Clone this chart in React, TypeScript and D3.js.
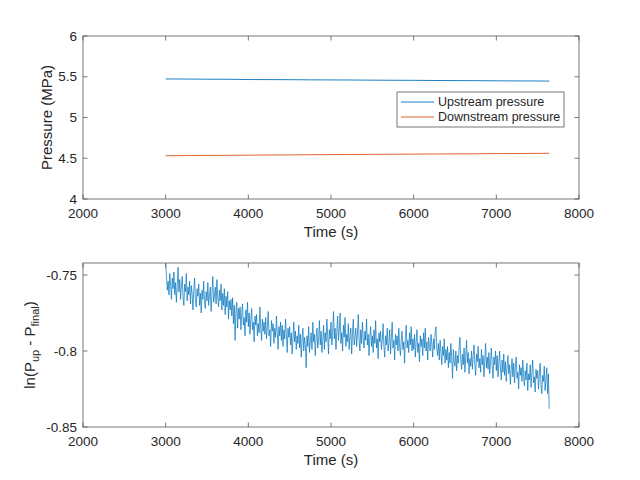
import { useEffect, useRef } from 'react'
import * as d3 from 'd3'

// top panel: pressure readings (MPa) every 250 s
const topTimes = [
  3000, 3250, 3500, 3750, 4000, 4250, 4500, 4750, 5000, 5250, 5500, 5750, 6000, 6250, 6500, 6750, 7000,
  7250, 7500, 7640,
]
const upstream = [
  5.473, 5.472, 5.47, 5.469, 5.466, 5.465, 5.464, 5.462, 5.461, 5.46, 5.458, 5.457, 5.456, 5.454, 5.453,
  5.452, 5.45, 5.449, 5.448, 5.447,
]
const downstream = [
  4.531, 4.533, 4.535, 4.536, 4.538, 4.54, 4.541, 4.543, 4.545, 4.546, 4.548, 4.549, 4.551, 4.552, 4.554,
  4.555, 4.557, 4.558, 4.56, 4.561,
]

// bottom panel: ln(P_up - P_final), sampled every 10 s from 3000 s (one row = 100 s)
const lnStart = 3000
const lnStep = 10
const lnValues = [
  -0.742, -0.751, -0.76, -0.754, -0.763, -0.749, -0.757, -0.766, -0.752, -0.759,
  -0.748, -0.763, -0.755, -0.768, -0.757, -0.745, -0.761, -0.753, -0.766, -0.758,
  -0.751, -0.764, -0.77, -0.756, -0.761, -0.749, -0.767, -0.758, -0.763, -0.754,
  -0.769, -0.757, -0.762, -0.773, -0.76, -0.752, -0.766, -0.771, -0.759, -0.764,
  -0.756, -0.77, -0.762, -0.775, -0.76, -0.766, -0.754, -0.768, -0.772, -0.761,
  -0.767, -0.755, -0.77, -0.763, -0.758, -0.774, -0.762, -0.751, -0.768, -0.764,
  -0.758, -0.769, -0.753, -0.765, -0.771, -0.76, -0.767, -0.756, -0.773, -0.762,
  -0.77, -0.759, -0.776, -0.764, -0.771, -0.761, -0.779, -0.767, -0.773, -0.766,
  -0.777, -0.765, -0.782, -0.77, -0.793, -0.774, -0.768, -0.785, -0.772, -0.779,
  -0.771, -0.786, -0.775, -0.769, -0.783, -0.778, -0.79, -0.773, -0.781, -0.768,
  -0.784, -0.775, -0.789, -0.779, -0.772, -0.786, -0.781, -0.794, -0.777, -0.783,
  -0.776, -0.79, -0.782, -0.788, -0.771, -0.785, -0.793, -0.779, -0.787, -0.781,
  -0.789, -0.778, -0.792, -0.784, -0.774, -0.79, -0.786, -0.797, -0.78, -0.787,
  -0.782, -0.795, -0.785, -0.791, -0.777, -0.788, -0.799, -0.784, -0.79, -0.781,
  -0.793, -0.783, -0.797, -0.786, -0.792, -0.779, -0.789, -0.801, -0.785, -0.791,
  -0.784, -0.796, -0.788, -0.802, -0.791, -0.781, -0.794, -0.787, -0.799, -0.79,
  -0.795, -0.783, -0.798, -0.789, -0.804, -0.792, -0.785, -0.8, -0.791, -0.796,
  -0.811, -0.79, -0.797, -0.784, -0.801, -0.793, -0.788, -0.799, -0.781, -0.794,
  -0.789, -0.803, -0.791, -0.785, -0.798, -0.792, -0.78, -0.796, -0.787, -0.801,
  -0.793, -0.783, -0.799, -0.788, -0.794, -0.779, -0.79, -0.802, -0.786, -0.792,
  -0.781, -0.796, -0.789, -0.774, -0.792, -0.785, -0.799, -0.787, -0.777, -0.793,
  -0.786, -0.775, -0.795, -0.788, -0.8, -0.783, -0.791, -0.778, -0.797, -0.789,
  -0.794, -0.782, -0.799, -0.79, -0.785, -0.802, -0.788, -0.779, -0.796, -0.791,
  -0.785, -0.797, -0.789, -0.776, -0.793, -0.8, -0.786, -0.795, -0.781, -0.792,
  -0.798, -0.787, -0.793, -0.779, -0.796, -0.789, -0.803, -0.791, -0.784, -0.797,
  -0.79, -0.801, -0.786, -0.795, -0.78, -0.798, -0.792, -0.805, -0.788, -0.794,
  -0.787, -0.799, -0.793, -0.782, -0.797, -0.804, -0.79, -0.796, -0.785, -0.8,
  -0.795, -0.786, -0.802, -0.791, -0.781, -0.798, -0.793, -0.806, -0.789, -0.796,
  -0.79, -0.8, -0.785, -0.797, -0.803, -0.792, -0.787, -0.799, -0.794, -0.808,
  -0.791, -0.783, -0.798, -0.793, -0.801, -0.788, -0.796, -0.784, -0.8, -0.792,
  -0.799, -0.789, -0.804, -0.794, -0.786, -0.801, -0.795, -0.807, -0.79, -0.797,
  -0.792, -0.803, -0.788, -0.798, -0.785, -0.8, -0.794, -0.806, -0.791, -0.797,
  -0.8, -0.789, -0.796, -0.804, -0.792, -0.799, -0.787, -0.784, -0.798, -0.803,
  -0.795, -0.806, -0.793, -0.801, -0.809, -0.797, -0.803, -0.792, -0.808, -0.799,
  -0.806, -0.797, -0.811, -0.801, -0.808, -0.795, -0.804, -0.818, -0.799, -0.807,
  -0.81, -0.8, -0.813, -0.803, -0.808, -0.797, -0.791, -0.806, -0.812, -0.802,
  -0.809, -0.798, -0.814, -0.804, -0.793, -0.808, -0.801, -0.815, -0.805, -0.81,
  -0.8, -0.812, -0.803, -0.796, -0.809, -0.816, -0.802, -0.807, -0.797, -0.811,
  -0.805, -0.814, -0.799, -0.809, -0.803, -0.817, -0.806, -0.795, -0.811, -0.804,
  -0.812, -0.801, -0.815, -0.807, -0.798, -0.81, -0.818, -0.804, -0.809, -0.8,
  -0.813, -0.803, -0.817, -0.808, -0.8, -0.812, -0.819, -0.806, -0.814, -0.802,
  -0.816, -0.807, -0.82, -0.81, -0.803, -0.815, -0.809, -0.822, -0.812, -0.805,
  -0.817, -0.808, -0.821, -0.811, -0.804, -0.818, -0.814, -0.825, -0.809, -0.816,
  -0.811, -0.82, -0.806, -0.817, -0.823, -0.813, -0.819, -0.808, -0.826, -0.815,
  -0.819, -0.809, -0.824, -0.814, -0.806, -0.821, -0.817, -0.827, -0.812, -0.818,
  -0.813, -0.825, -0.815, -0.808, -0.822, -0.828, -0.816, -0.82, -0.81, -0.826,
  -0.819, -0.811, -0.828, -0.815, -0.838,
]

const xTicks = [2000, 3000, 4000, 5000, 6000, 7000, 8000]
const topYTicks = [4, 4.5, 5, 5.5, 6]
const bottomYTicks = [-0.85, -0.8, -0.75]
const seriesNames = ['Upstream pressure', 'Downstream pressure']
const seriesColors = ['#0072BD', '#D95319']

const FONT = '"Liberation Sans", Arial, Helvetica, sans-serif'
const AXIS = '#262626'
const BOX = '#555555'
const TICK = 4.5

type G = d3.Selection<SVGGElement, unknown, null, undefined>

function drawFrame(
  g: G,
  x: d3.ScaleLinear<number, number>,
  y: d3.ScaleLinear<number, number>,
  yTicks: number[],
) {
  const [x0, x1] = x.range()
  const [y0, y1] = y.range() // y0 bottom, y1 top

  g.append('rect')
    .attr('x', x0)
    .attr('y', y1)
    .attr('width', x1 - x0)
    .attr('height', y0 - y1)
    .attr('fill', 'none')
    .attr('stroke', BOX)
    .attr('stroke-width', 0.8)

  // ticks inside on all four sides (box on)
  xTicks.forEach((t) => {
    const px = x(t)
    g.append('line').attr('x1', px).attr('x2', px).attr('y1', y0).attr('y2', y0 - TICK)
      .attr('stroke', BOX).attr('stroke-width', 0.8)
    g.append('line').attr('x1', px).attr('x2', px).attr('y1', y1).attr('y2', y1 + TICK)
      .attr('stroke', BOX).attr('stroke-width', 0.8)
    g.append('text')
      .attr('x', px)
      .attr('y', y0 + 19)
      .attr('text-anchor', 'middle')
      .attr('font-size', 13.5)
      .attr('fill', AXIS)
      .text(String(t))
  })
  yTicks.forEach((t) => {
    const py = y(t)
    g.append('line').attr('x1', x0).attr('x2', x0 + TICK).attr('y1', py).attr('y2', py)
      .attr('stroke', BOX).attr('stroke-width', 0.8)
    g.append('line').attr('x1', x1).attr('x2', x1 - TICK).attr('y1', py).attr('y2', py)
      .attr('stroke', BOX).attr('stroke-width', 0.8)
    g.append('text')
      .attr('x', x0 - 6)
      .attr('y', py)
      .attr('dy', '0.35em')
      .attr('text-anchor', 'end')
      .attr('font-size', 13.5)
      .attr('fill', AXIS)
      .text(String(t))
  })

  g.append('text')
    .attr('x', (x0 + x1) / 2)
    .attr('y', y0 + 38)
    .attr('text-anchor', 'middle')
    .attr('font-size', 15)
    .attr('fill', AXIS)
    .text('Time (s)')
}

export default function App() {
  const svgRef = useRef<SVGSVGElement | null>(null)

  useEffect(() => {
    const svgEl = svgRef.current
    if (!svgEl) return
    const svg = d3.select(svgEl)
    svg.selectAll('*').remove()
    svg.attr('font-family', FONT)

    const left = 83
    const right = 579

    // ---------- top panel ----------
    const xTop = d3.scaleLinear().domain([2000, 8000]).range([left, right])
    const yTop = d3.scaleLinear().domain([4, 6]).range([199, 36])
    const gTop = svg.append('g')

    const topLine = (vals: number[]) =>
      d3
        .line<number>()
        .x((_, i) => xTop(topTimes[i]))
        .y((v) => yTop(v))(vals) ?? ''

    ;[upstream, downstream].forEach((vals, i) => {
      gTop.append('path')
        .attr('d', topLine(vals))
        .attr('fill', 'none')
        .attr('stroke', seriesColors[i])
        .attr('stroke-width', 0.9)
    })

    drawFrame(gTop, xTop, yTop, topYTicks)

    gTop.append('text')
      .attr('transform', `translate(47,${(36 + 199) / 2}) rotate(-90)`)
      .attr('text-anchor', 'middle')
      .attr('dy', '0.35em')
      .attr('font-size', 15)
      .attr('fill', AXIS)
      .text('Pressure (MPa)')

    // legend
    const leg = gTop.append('g')
    leg.append('rect')
      .attr('x', 397)
      .attr('y', 92)
      .attr('width', 167)
      .attr('height', 35)
      .attr('fill', '#ffffff')
      .attr('stroke', BOX)
      .attr('stroke-width', 0.8)
    seriesNames.forEach((name, i) => {
      const ly = 102 + i * 15
      leg.append('line')
        .attr('x1', 401).attr('x2', 434).attr('y1', ly).attr('y2', ly)
        .attr('stroke', seriesColors[i]).attr('stroke-width', 0.9)
      leg.append('text')
        .attr('x', 438)
        .attr('y', ly)
        .attr('dy', '0.35em')
        .attr('font-size', 12.5)
        .attr('fill', AXIS)
        .text(name)
    })

    // ---------- bottom panel ----------
    const xBot = d3.scaleLinear().domain([2000, 8000]).range([left, right])
    const yBot = d3.scaleLinear().domain([-0.85, -0.7421]).range([427, 263])
    const gBot = svg.append('g')

    svg.append('defs').append('clipPath').attr('id', 'botClip')
      .append('rect').attr('x', left).attr('y', 263).attr('width', right - left).attr('height', 164)

    const lnLine = d3
      .line<number>()
      .x((_, i) => xBot(lnStart + i * lnStep))
      .y((v) => yBot(v))

    gBot.append('path')
      .attr('d', lnLine(lnValues) ?? '')
      .attr('clip-path', 'url(#botClip)')
      .attr('fill', 'none')
      .attr('stroke', '#0072BD')
      .attr('stroke-width', 0.7)
      .attr('stroke-linejoin', 'round')

    drawFrame(gBot, xBot, yBot, bottomYTicks)

    const lab = gBot.append('text')
      .attr('transform', `translate(30,${(263 + 427) / 2}) rotate(-90)`)
      .attr('text-anchor', 'middle')
      .attr('dy', '0.35em')
      .attr('font-size', 15)
      .attr('fill', AXIS)
    lab.append('tspan').text('ln(P')
    lab.append('tspan').attr('font-size', 11).attr('dy', 4).text('up')
    lab.append('tspan').attr('dy', -4).text(' - P')
    lab.append('tspan').attr('font-size', 11).attr('dy', 4).text('final')
    lab.append('tspan').attr('dy', -4).text(')')
  }, [])

  return (
    <svg
      ref={svgRef}
      width={640}
      height={480}
      style={{ position: 'absolute', left: 0, top: 0, background: '#ffffff' }}
    />
  )
}
